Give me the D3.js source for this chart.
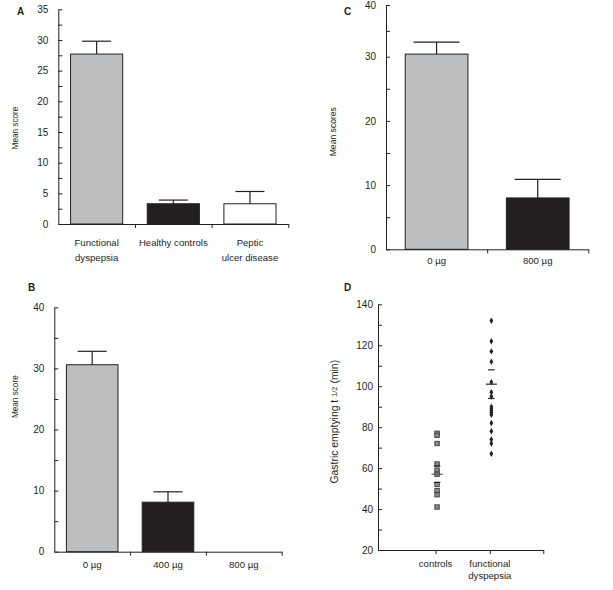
<!DOCTYPE html>
<html><head><meta charset="utf-8">
<script src="https://d3js.org/d3.v7.min.js"></script>
<style>
body{margin:0;background:#fff;}
svg{display:block;font-family:"Liberation Sans",Arial,sans-serif;}
</style></head>
<body>
<svg id="chart" width="613" height="590"></svg>
<script>
// ---- Data ----
const aCategories = [["Functional","dyspepsia"],["Healthy controls"],["Peptic","ulcer disease"]];
const aMeans = [27.7, 3.3, 3.3];
const aErrTop = [29.8, 3.9, 5.3];
const aTicks = [0,5,10,15,20,25,30,35];

const bCategories = [["0 µg"],["400 µg"],["800 µg"]];
const bMeans = [30.6, 8.1, 0];
const bErrTop = [32.8, 9.8, null];
const bTicks = [0,10,20,30,40];

const cCategories = [["0 µg"],["800 µg"]];
const cMeans = [30.5, 8.0];
const cErrTop = [32.8, 10.9];
const cTicks = [0,10,20,30,40];

const dCategories = [["controls"],["functional","dyspepsia"]];
const dControls = [77, 76, 72, 62, 59, 57, 52, 49, 47, 41];
const dFunctional = [132, 122, 117, 112, 102, 97, 95, 90, 89, 88, 87, 86, 82, 78, 74, 72, 67];
const dControlsLines = [53, 57, 61];      // lower, mean, upper
const dFunctionalLines = [94, 101, 108];  // lower, mean, upper
const dTicks = [20,40,60,80,100,120,140];

const fills = ["#bcbec0", "#231f20", "#ffffff"];
const ink = "#231f20";

const svg = d3.select("#chart");

function yAxis(g, y, ticks, step, pad) {
  const all = [];
  for (let i = 0; i < ticks.length; i++) {
    all.push(ticks[i]);
    if (i < ticks.length - 1) all.push(ticks[i] + step / 2);
  }
  const ax = d3.axisLeft(y).tickValues(all).tickSizeInner(-4).tickSizeOuter(0)
    .tickPadding(pad).tickFormat(d => ticks.includes(d) ? d : "");
  g.call(ax);
  g.select(".domain").attr("stroke", ink);
  g.selectAll(".tick line").attr("stroke", ink);
  g.selectAll(".tick text").attr("fill", ink).attr("font-size", 10)
    .attr("font-family", "Liberation Sans, Arial, sans-serif");
}

function xAxis(g, x0, x1, n) {
  const lin = d3.scaleLinear().domain([0, n]).range([x0, x1]);
  const ax = d3.axisBottom(lin).tickValues(d3.range(1, n + 1)).tickSizeInner(4)
    .tickSizeOuter(0).tickFormat("");
  g.call(ax);
  g.select(".domain").attr("stroke", ink);
  g.selectAll(".tick line").attr("stroke", ink);
}

function catLabels(g, x, cats, yTop, lineH) {
  cats.forEach((lines, i) => {
    lines.forEach((t, j) => {
      g.append("text").attr("x", x(i) ).attr("y", yTop + j * lineH)
        .attr("text-anchor", "middle").attr("dominant-baseline", "central")
        .attr("font-size", 9.6).attr("fill", ink).text(t);
    });
  });
}

function barPanel(opt) {
  const g = svg.append("g");
  const n = opt.cats.length;
  const x = d3.scaleBand().domain(d3.range(n)).range([opt.x0, opt.x1])
    .paddingInner(opt.pad).paddingOuter(opt.pad / 2);
  const y = opt.y;
  // bars
  g.selectAll("rect.bar").data(opt.means).enter().append("rect")
    .filter(d => d > 0)
    .attr("x", (d, i) => x(i)).attr("width", x.bandwidth())
    .attr("y", d => y(d)).attr("height", d => y(0) - y(d))
    .attr("fill", (d, i) => fills[i]).attr("stroke", ink).attr("stroke-width", 1);
  // error bars
  opt.means.forEach((m, i) => {
    const e = opt.err[i];
    if (e == null) return;
    const cx = x(i) + x.bandwidth() / 2;
    g.append("line").attr("x1", cx).attr("x2", cx).attr("y1", y(m)).attr("y2", y(e))
      .attr("stroke", ink).attr("stroke-width", 1.2);
    g.append("line").attr("x1", cx - opt.cap / 2).attr("x2", cx + opt.cap / 2)
      .attr("y1", y(e)).attr("y2", y(e)).attr("stroke", ink).attr("stroke-width", 1.2);
  });
  yAxis(g.append("g").attr("transform", `translate(${opt.x0},0)`), y, opt.ticks, opt.ticks[1] - opt.ticks[0], 10);
  xAxis(g.append("g").attr("transform", `translate(0,${y(0)})`), opt.x0, opt.x1, n);
  catLabels(g, i => x(i) + x.bandwidth() / 2, opt.cats, opt.labelY, 15);
  // panel letter
  g.append("text").attr("x", opt.letterX).attr("y", opt.letterY).attr("dominant-baseline", "central")
    .attr("font-weight", "bold").attr("font-size", 10).attr("fill", ink).text(opt.letter);
  // y title
  g.append("text").attr("transform", `translate(${opt.titleX},${opt.titleY}) rotate(-90)`)
    .attr("text-anchor", "middle").attr("dominant-baseline", "central")
    .attr("font-size", opt.titleSize).attr("fill", ink).text(opt.title);
}

// Panel A
barPanel({
  cats: aCategories, means: aMeans, err: aErrTop, ticks: aTicks,
  x0: 58.3, x1: 288.3, pad: 0.32, cap: 29,
  y: d3.scaleLinear().domain([0, 35]).range([224, 9.3]),
  labelY: 242.7, letter: "A", letterX: 17, letterY: 11,
  title: "Mean score", titleX: 15, titleY: 128, titleSize: 8.2
});

// Panel B
barPanel({
  cats: bCategories, means: bMeans, err: bErrTop, ticks: bTicks,
  x0: 54.3, x1: 281.7, pad: 0.32, cap: 29,
  y: d3.scaleLinear().domain([0, 40]).range([551.7, 307.3]),
  labelY: 564, letter: "B", letterX: 28, letterY: 287.5,
  title: "Mean score", titleX: 15, titleY: 396.7, titleSize: 8.2
});

// Panel C
barPanel({
  cats: cCategories, means: cMeans, err: cErrTop, ticks: cTicks,
  x0: 386, x1: 588.3, pad: 0.38, cap: 46,
  y: d3.scaleLinear().domain([0, 30, 40]).range([249.3, 56.7, 5]),
  labelY: 260, letter: "C", letterX: 344, letterY: 11,
  title: "Mean scores", titleX: 333.3, titleY: 131.7, titleSize: 8.6
});

// Panel D
(function () {
  const g = svg.append("g");
  const x0 = 378, x1 = 543.3;
  const xl = d3.scaleLinear().domain([0, 3]).range([x0, x1]);
  const y = d3.scaleLinear().domain([20, 140]).range([550, 304.3]);
  yAxis(g.append("g").attr("transform", `translate(${x0},0)`), y, dTicks, 20, 5);
  const ax = d3.axisBottom(xl).tickValues([1.045, 2.03, 3]).tickSizeInner(4).tickSizeOuter(0).tickFormat("");
  const gx = g.append("g").attr("transform", `translate(0,${y(20)})`).call(ax);
  gx.select(".domain").attr("stroke", ink);
  gx.selectAll(".tick line").attr("stroke", ink);
  const cx = [xl(1.045), xl(2.03)];
  // controls squares
  g.selectAll("rect.ctl").data(dControls).enter().append("rect")
    .attr("x", cx[0] + 1.5 - 2.2).attr("y", d => y(d) - 2.2).attr("width", 4.4).attr("height", 4.4)
    .attr("fill", "#8a8a8a").attr("stroke", "#3a3a3a").attr("stroke-width", 0.9);
  // functional dots
  g.selectAll("path.fd").data(dFunctional).enter().append("path")
    .attr("d", d3.symbol().type(d3.symbolDiamond).size(12))
    .attr("transform", d => `translate(${cx[1] + 1.5},${y(d)})`)
    .attr("fill", ink);
  // mean/sd lines
  [[dControlsLines, cx[0] + 1.5], [dFunctionalLines, cx[1] + 1.5]].forEach(([vals, c]) => {
    vals.forEach((v, i) => {
      const w = i === 1 ? 11 : 6.5;
      g.append("line").attr("x1", c - w / 2).attr("x2", c + w / 2)
        .attr("y1", y(v)).attr("y2", y(v))
        .attr("stroke", i === 1 && c < 460 ? "#555" : ink).attr("stroke-width", 1.2);
    });
  });
  catLabels(g, i => cx[i], dCategories, 563.3, 12.5);
  g.append("text").attr("x", 344).attr("y", 287.5).attr("dominant-baseline", "central")
    .attr("font-weight", "bold").attr("font-size", 10).attr("fill", ink).text("D");
  const t = g.append("text").attr("transform", `translate(334,421.7) rotate(-90)`)
    .attr("text-anchor", "middle").attr("dominant-baseline", "central")
    .attr("font-size", 10.4).attr("fill", ink);
  t.append("tspan").text("Gastric emptying t  ");
  t.append("tspan").attr("font-size", 7.5).text("1/2");
  t.append("tspan").text(" (min)");
})();
</script>
</body></html>
